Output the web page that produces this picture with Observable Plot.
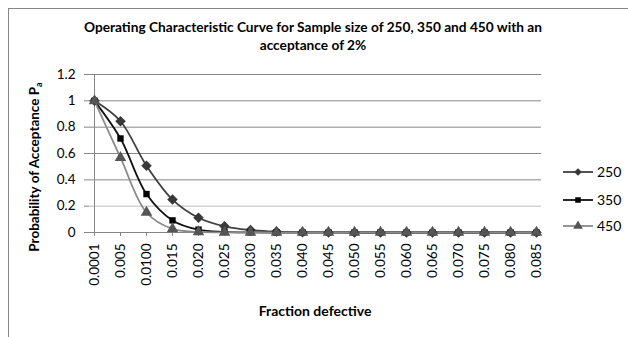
<!DOCTYPE html>
<html><head><meta charset="utf-8">
<script src="https://cdn.jsdelivr.net/npm/d3@7"></script>
<script src="https://cdn.jsdelivr.net/npm/@observablehq/plot@0.6"></script>
<style>
body{margin:0;background:#fff;font-family:Lato,"Open Sans",sans-serif;}
#chart{position:relative;width:628px;height:337px;overflow:hidden;background:#fff;}
#frame{position:absolute;left:8px;top:8px;width:700px;height:400px;border:1px solid #868686;}
#plot{position:absolute;left:0;top:0;}
#title{position:absolute;left:0;width:626px;top:18px;text-align:center;font-weight:bold;font-size:13.7px;line-height:18px;color:#000;}
#ylab{position:absolute;left:35px;top:167px;transform:translate(-50%,-50%) rotate(-90deg);white-space:nowrap;font-weight:bold;font-size:13.5px;color:#000;}
#ylab sub{font-size:9px;}
#xlab{position:absolute;left:0;width:630px;top:302px;text-align:center;font-weight:bold;font-size:14px;color:#000;}
#legend{position:absolute;left:555px;top:155px;}
</style></head>
<body>
<div id="chart">
  <div id="frame"></div>
  <div id="plot"></div>
  <div id="title">Operating Characteristic Curve for Sample size of 250, 350 and 450 with an<br>acceptance of 2%</div>
  <div id="ylab">Probability of Acceptance P<sub>a</sub></div>
  <div id="xlab">Fraction defective</div>
  <div id="legend"></div>
</div>
<script>
const categories = ["0.0001","0.005","0.0100","0.015","0.020","0.025","0.030","0.035","0.040","0.045","0.050","0.055","0.060","0.065","0.070","0.075","0.080","0.085"];
const seriesNames = ["250","350","450"];
const s250 = [1, 0.845, 0.507, 0.25, 0.112, 0.047, 0.019, 0.007, 0.002, 0.001, 0, 0, 0, 0, 0, 0, 0, 0];
const s350 = [1, 0.714, 0.292, 0.092, 0.022, 0.005, 0.001, 0, 0, 0, 0, 0, 0, 0, 0, 0, 0, 0];
const s450 = [1, 0.568, 0.152, 0.027, 0.004, 0.001, 0, 0, 0, 0, 0, 0, 0, 0, 0, 0, 0, 0];
const yTicks = [0, 0.2, 0.4, 0.6, 0.8, 1, 1.2];

const styles = [
  {values: s250, line: "#404040", fill: "#383838", symbol: "square", rotate: 45, r: 4.2},
  {values: s350, line: "#111111", fill: "#000000", symbol: "square", rotate: 0, r: 3.6},
  {values: s450, line: "#8a8a8a", fill: "#555555", symbol: "triangle", rotate: 0, r: 4.3}
];
const rowsFor = vals => categories.map((c, i) => ({cat: c, v: vals[i]}));

const marks = [
  Plot.ruleY(yTicks.filter(d => d > 0 && d !== 0.2), {stroke: "#868686", strokeWidth: 1}),
  Plot.ruleY([0.2], {stroke: "#bdbdbd", strokeWidth: 1}),
  Plot.ruleX([categories[0]], {stroke: "#868686"}),
  Plot.ruleY([0], {stroke: "#868686"}),
  Plot.axisY({ticks: yTicks, tickSize: 5, tickPadding: 9, tickFormat: d => String(+d.toFixed(1)), label: null, stroke: "#868686", fontSize: 13.5}),
  Plot.axisX({tickRotate: -90, tickSize: 4, tickPadding: 7, label: null, stroke: "#868686", fontSize: 13.5})
];
styles.forEach(s => {
  const rows = rowsFor(s.values);
  marks.push(Plot.line(rows, {x: "cat", y: "v", stroke: s.line, strokeWidth: 1.8, curve: "catmull-rom"}));
});
styles.forEach(s => {
  const rows = rowsFor(s.values);
  marks.push(Plot.dot(rows, {x: "cat", y: "v", symbol: s.symbol, rotate: s.rotate, fill: s.fill, stroke: "none", r: s.r}));
});

const chart = Plot.plot({
  width: 628, height: 337,
  marginTop: 74, marginBottom: 105, marginLeft: 89, marginRight: 87,
  x: {type: "point", domain: categories, padding: 0},
  y: {domain: [0, 1.2]},
  style: {fontFamily: "Lato, 'Open Sans', sans-serif", fontSize: "13.5px", color: "#000", background: "transparent"},
  marks
});
document.getElementById("plot").appendChild(chart);

// legend
const lg = d3.select("#legend").append("svg").attr("width", 73).attr("height", 90);
const symMap = {square: d3.symbolSquare, triangle: d3.symbolTriangle};
styles.forEach((s, i) => {
  const y = [17, 45, 71][i];
  const g = lg.append("g").attr("transform", `translate(0,${y})`);
  g.append("line").attr("x1", 8).attr("x2", 38).attr("y1", 0).attr("y2", 0).attr("stroke", s.line).attr("stroke-width", 1.8);
  g.append("path").attr("d", d3.symbol(symMap[s.symbol], s.symbol === "square" ? 30 : 40)()).attr("transform", `translate(23,0) rotate(${s.rotate})`).attr("fill", s.fill);
  g.append("text").attr("x", 42).attr("y", 0).attr("dy", "0.35em").attr("font-size", 14).attr("font-family", "Lato, 'Open Sans', sans-serif").text(seriesNames[i]);
});
</script>
</body></html>
